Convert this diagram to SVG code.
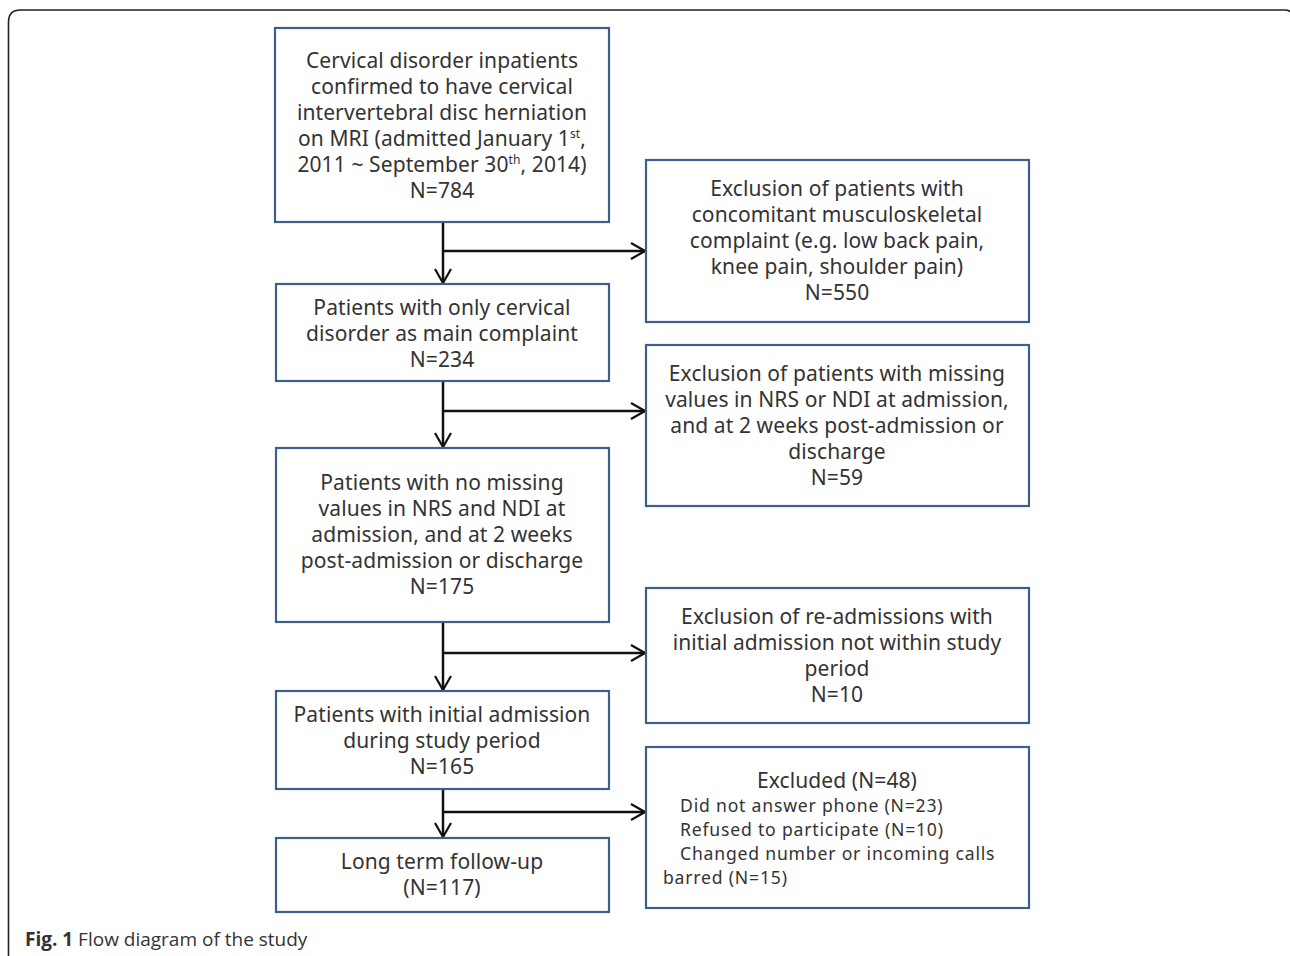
<svg xmlns="http://www.w3.org/2000/svg" width="1290" height="956" viewBox="0 0 1290 956">
<defs>
<marker id="arr" viewBox="0 0 16 18" refX="15" refY="9" markerWidth="16" markerHeight="18" markerUnits="userSpaceOnUse" orient="auto">
<path d="M1,1 L15,9 L1,17" fill="none" stroke="#111" stroke-width="2.2"/>
</marker>
<style>
.box{fill:#fff;stroke:#3d5f8c;stroke-width:2.2}
.t{font-family:"Noto Sans","Open Sans",sans-serif;font-size:21px;fill:#333;text-anchor:middle;letter-spacing:0.1px}
.s{font-family:"Noto Sans","Open Sans",sans-serif;font-size:17.6px;fill:#333;letter-spacing:0.8px}
.c{stroke:#111;stroke-width:2.5;fill:none}
.cap{font-family:"Open Sans","Noto Sans",sans-serif;font-size:19px;fill:#333}
</style>
</defs>
<rect width="1290" height="956" fill="#fff"/>
<path d="M8.5,960 L8.5,22 Q8.5,10 20.5,10 L1285,10 Q1290,10 1292,14" fill="none" stroke="#222" stroke-width="1.6"/>

<g id="connectors">
<line class="c" x1="443" y1="222" x2="443" y2="283" marker-end="url(#arr)"/>
<line class="c" x1="443" y1="251" x2="645" y2="251" marker-end="url(#arr)"/>
<line class="c" x1="443" y1="381" x2="443" y2="447" marker-end="url(#arr)"/>
<line class="c" x1="443" y1="411" x2="645" y2="411" marker-end="url(#arr)"/>
<line class="c" x1="443" y1="622" x2="443" y2="690" marker-end="url(#arr)"/>
<line class="c" x1="443" y1="653" x2="645" y2="653" marker-end="url(#arr)"/>
<line class="c" x1="443" y1="789" x2="443" y2="837" marker-end="url(#arr)"/>
<line class="c" x1="443" y1="812" x2="645" y2="812" marker-end="url(#arr)"/>
</g>

<g id="n1">
<rect class="box" x="275" y="28" width="334" height="194"/>
<text class="t" x="442" y="68">Cervical disorder inpatients</text>
<text class="t" x="442" y="94">confirmed to have cervical</text>
<text class="t" x="442" y="120">intervertebral disc herniation</text>
<text class="t" x="442" y="146">on MRI (admitted January 1<tspan font-size="12" dy="-8">st</tspan><tspan dy="8">,</tspan></text>
<text class="t" x="442" y="172">2011 ~ September 30<tspan font-size="12" dy="-8">th</tspan><tspan dy="8">, 2014)</tspan></text>
<text class="t" x="442" y="198">N=784</text>
</g>

<g id="n2">
<rect class="box" x="646" y="160" width="383" height="162"/>
<text class="t" x="837" y="196">Exclusion of patients with</text>
<text class="t" x="837" y="222">concomitant musculoskeletal</text>
<text class="t" x="837" y="248">complaint (e.g. low back pain,</text>
<text class="t" x="837" y="274">knee pain, shoulder pain)</text>
<text class="t" x="837" y="300">N=550</text>
</g>

<g id="n3">
<rect class="box" x="276" y="284" width="333" height="97"/>
<text class="t" x="442" y="315">Patients with only cervical</text>
<text class="t" x="442" y="341">disorder as main complaint</text>
<text class="t" x="442" y="367">N=234</text>
</g>

<g id="n4">
<rect class="box" x="646" y="345" width="383" height="161"/>
<text class="t" x="837" y="381">Exclusion of patients with missing</text>
<text class="t" x="837" y="407">values in NRS or NDI at admission,</text>
<text class="t" x="837" y="433">and at 2 weeks post-admission or</text>
<text class="t" x="837" y="459">discharge</text>
<text class="t" x="837" y="485">N=59</text>
</g>

<g id="n5">
<rect class="box" x="276" y="448" width="333" height="174"/>
<text class="t" x="442" y="490">Patients with no missing</text>
<text class="t" x="442" y="516">values in NRS and NDI at</text>
<text class="t" x="442" y="542">admission, and at 2 weeks</text>
<text class="t" x="442" y="568">post-admission or discharge</text>
<text class="t" x="442" y="594">N=175</text>
</g>

<g id="n6">
<rect class="box" x="646" y="588" width="383" height="135"/>
<text class="t" x="837" y="624">Exclusion of re-admissions with</text>
<text class="t" x="837" y="650">initial admission not within study</text>
<text class="t" x="837" y="676">period</text>
<text class="t" x="837" y="702">N=10</text>
</g>

<g id="n7">
<rect class="box" x="276" y="691" width="333" height="98"/>
<text class="t" x="442" y="722">Patients with initial admission</text>
<text class="t" x="442" y="748">during study period</text>
<text class="t" x="442" y="774">N=165</text>
</g>

<g id="n8">
<rect class="box" x="646" y="747" width="383" height="161"/>
<text class="t" x="837" y="788">Excluded (N=48)</text>
<text class="s" x="680" y="812">Did not answer phone (N=23)</text>
<text class="s" x="680" y="836">Refused to participate (N=10)</text>
<text class="s" x="680" y="860">Changed number or incoming calls</text>
<text class="s" x="663" y="884">barred (N=15)</text>
</g>

<g id="n9">
<rect class="box" x="276" y="838" width="333" height="74"/>
<text class="t" x="442" y="869">Long term follow-up</text>
<text class="t" x="442" y="895">(N=117)</text>
</g>

<text class="cap" x="25" y="946"><tspan font-weight="bold">Fig. 1</tspan> Flow diagram of the study</text>
</svg>
